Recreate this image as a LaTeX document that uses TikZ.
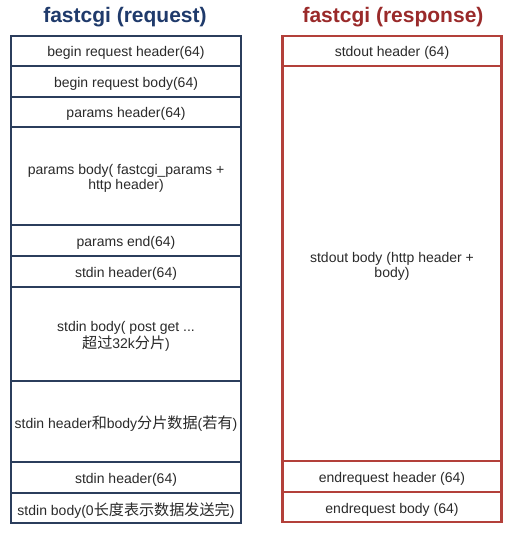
\documentclass[tikz,border=0pt]{standalone}
\usepackage{fontspec}
\setmainfont{Liberation Sans}
\newfontfamily\cjk[Scale=1.08]{Noto Sans CJK SC}
\definecolor{reqblue}{HTML}{1F3A6B}
\definecolor{resred}{HTML}{9A2A2A}
\definecolor{reqline}{HTML}{2B3D5C}
\definecolor{resline}{HTML}{B3403A}
\definecolor{txt}{HTML}{2A2A2A}
\newcommand\lbl[1]{\raisebox{-3pt}[\height][\depth]{\begin{tabular}{@{}c@{}}#1\end{tabular}}}
\tikzset{
  reqrow/.style={draw=reqline, line width=1.5pt, rectangle, minimum width=230pt, inner sep=0pt, text=txt, font=\fontsize{14}{15}\selectfont},
  resrow/.style={draw=resline, line width=2.6pt, rectangle, minimum width=219pt, inner sep=0pt, text=txt, font=\fontsize{14}{15}\selectfont},
  title/.style={font=\fontsize{21}{24}\selectfont\bfseries, inner sep=0pt}
}
\renewcommand\arraystretch{1}
\begin{document}
\begin{tikzpicture}[x=1pt,y=-1pt]
\fill[white] (0,0) rectangle (512,537);
\useasboundingbox (0,0) rectangle (512,537);
\node[title, text=reqblue] (treq) at (125,17) {fastcgi (request)};
\node[title, text=resred] (tres) at (393,17) {fastcgi (response)};
% request column
\node[reqrow, minimum height=30pt] (r1) at (126,51) {\lbl{begin request header(64)}};
\node[reqrow, minimum height=31pt] (r2) at (126,81.5) {\lbl{begin request body(64)}};
\node[reqrow, minimum height=30pt] (r3) at (126,112) {\lbl{params header(64)}};
\node[reqrow, minimum height=98pt] (r4) at (126,176) {\lbl{params body( fastcgi\_params +\\http header)}};
\node[reqrow, minimum height=31pt] (r5) at (126,240.5) {\lbl{params end(64)}};
\node[reqrow, minimum height=31pt] (r6) at (126,271.5) {\lbl{stdin header(64)}};
\node[reqrow, minimum height=94pt] (r7) at (126,334) {\lbl{stdin body( post get ...\\{\cjk 超过}32k{\cjk 分片})}};
\node[reqrow, minimum height=81pt] (r8) at (126,421.5) {\lbl{stdin header{\cjk 和}body{\cjk 分片数据}({\cjk 若有})}};
\node[reqrow, minimum height=31pt] (r9) at (126,477.5) {\lbl{stdin header(64)}};
\node[reqrow, minimum height=30pt] (r10) at (126,508) {\lbl{stdin body(0{\cjk 长度表示数据发送完})}};
% response column
\node[resrow, minimum height=30pt] (s1) at (392,51) {\lbl{stdout header (64)}};
\node[resrow, minimum height=395pt] (s2) at (392,263.5) {\lbl{stdout body (http header +\\body)}};
\node[resrow, minimum height=31pt] (s3) at (392,476.5) {\lbl{endrequest header (64)}};
\node[resrow, minimum height=30pt] (s4) at (392,507) {\lbl{endrequest body (64)}};
\end{tikzpicture}
\end{document}
